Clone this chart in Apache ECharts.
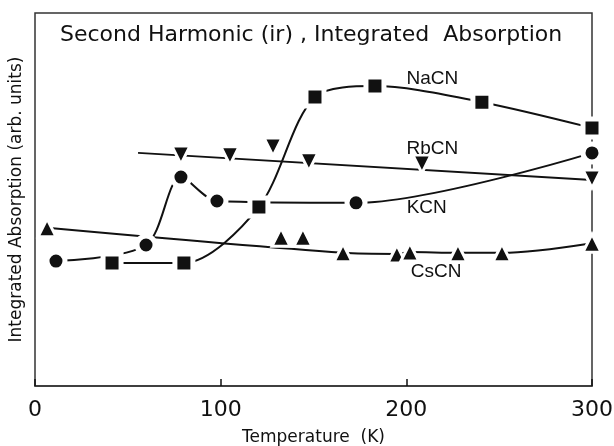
<!DOCTYPE html>
<html><head><meta charset="utf-8">
<script src="https://cdn.jsdelivr.net/npm/echarts@6/dist/echarts.min.js"></script>
<style>html,body{margin:0;padding:0;background:#fff}#c{width:614px;height:446px}</style>
</head><body><div id="c"></div>
<script>
// ---- data ----
const xTicks = [0, 100, 200, 300];
const titleText = 'Second Harmonic (ir) , Integrated  Absorption';
const xName = 'Temperature  (K)';
const yName = 'Integrated Absorption (arb. units)';

const nacnT = [41.5, 80.2, 120.6, 150.8, 183.1, 240.7, 300];
const nacnV = [33.0, 33.0, 48.0, 77.5, 80.4, 76.1, 69.2];

const kcnT = [11.3, 59.8, 78.6, 98.0, 172.9, 300];
const kcnV = [33.5, 37.8, 56.0, 49.6, 49.1, 62.5];

const rbcnT = [78.6, 105.0, 128.2, 147.5, 208.4, 300];
const rbcnV = [61.9, 61.7, 64.1, 60.1, 59.5, 55.5];
const rbcnFitT = [55.5, 300];
const rbcnFitV = [62.5, 55.2];

const cscnT = [6.5, 165.9, 194.9, 201.9, 227.8, 251.5, 300];
const cscnV = [42.4, 35.7, 35.4, 35.9, 35.7, 35.7, 38.3];
const cscnExtraT = [132.5, 144.3];
const cscnExtraV = [39.9, 39.9];

const seriesNames = ['NaCN', 'RbCN', 'KCN', 'CsCN'];
const labelT = [214, 214, 211, 216];
const labelV = [82.5, 63.5, 47.8, 30.6];

// ---- build ----
const pair = (t, v) => t.map((x, i) => [x, v[i]]);
const INK = '#111';
const FONT = '"Liberation Sans", Arial, sans-serif';
const WIDE = '"DejaVu Sans", sans-serif';

function lineS(data, smooth) {
  return { type: 'line', data, smooth, showSymbol: false, symbol: 'none', z: 2,
    lineStyle: { color: INK, width: 2 }, silent: true, animation: false };
}
function markS(data, symbol, size, rotate, bw) {
  return { type: 'scatter', data, symbol, symbolSize: size, symbolRotate: rotate || 0, z: 3,
    itemStyle: { color: INK, borderColor: '#fff', borderWidth: bw || 5, opacity: 1 }, silent: true, animation: false };
}

const chart = echarts.init(document.getElementById('c'), null, { renderer: 'canvas' });
chart.setOption({
  backgroundColor: '#fff',
  animation: false,
  title: { text: titleText, left: 55, top: 19,
    textStyle: { fontFamily: WIDE, fontSize: 22, fontWeight: 'normal', color: INK } },
  grid: { left: 35, right: 22, top: 13, bottom: 60, containLabel: false, outerBoundsMode: 'none',
    show: true, borderColor: '#333', borderWidth: 1.5, backgroundColor: 'transparent' },
  xAxis: {
    type: 'value', min: 0, max: 300, interval: 100,
    axisLine: { show: true, lineStyle: { color: '#333', width: 1.5 } },
    axisTick: { show: true, inside: true, length: 7, lineStyle: { color: INK, width: 1.5 } },
    axisLabel: { fontFamily: WIDE, fontSize: 22, color: INK, margin: 13,
      formatter: v => xTicks.indexOf(v) >= 0 ? String(v) : '' },
    splitLine: { show: false },
    name: xName, nameLocation: 'middle', nameGap: 43,
    nameTextStyle: { fontFamily: WIDE, fontSize: 17, color: INK }
  },
  yAxis: {
    type: 'value', min: 0, max: 100,
    axisLine: { show: false }, axisTick: { show: false }, axisLabel: { show: false },
    splitLine: { show: false },
    name: yName, nameLocation: 'middle', nameGap: 10,
    nameTextStyle: { fontFamily: WIDE, fontSize: 17, color: INK }
  },
  series: [
    lineS(pair(nacnT, nacnV), 0.3),
    lineS(pair(kcnT, kcnV), 0.3),
    lineS(pair(rbcnFitT, rbcnFitV), false),
    lineS(pair(cscnT, cscnV), 0.3),
    markS(pair(nacnT, nacnV), 'rect', 18),
    markS(pair(kcnT, kcnV), 'circle', 18),
    markS(pair(rbcnT, rbcnV), 'triangle', 18, 180, 3),
    markS(pair(cscnT, cscnV), 'triangle', 18, 0, 3),
    markS(pair(cscnExtraT, cscnExtraV), 'triangle', 18, 0, 3),
    { type: 'scatter', symbolSize: 0, z: 4, silent: true, animation: false,
      itemStyle: { opacity: 1 },
      data: seriesNames.map((n, i) => ({ value: [labelT[i], labelV[i]], name: n })),
      label: { show: true, position: 'inside', formatter: p => p.name,
        fontFamily: FONT, fontSize: 19, color: INK } }
  ]
});
</script>
</body></html>
